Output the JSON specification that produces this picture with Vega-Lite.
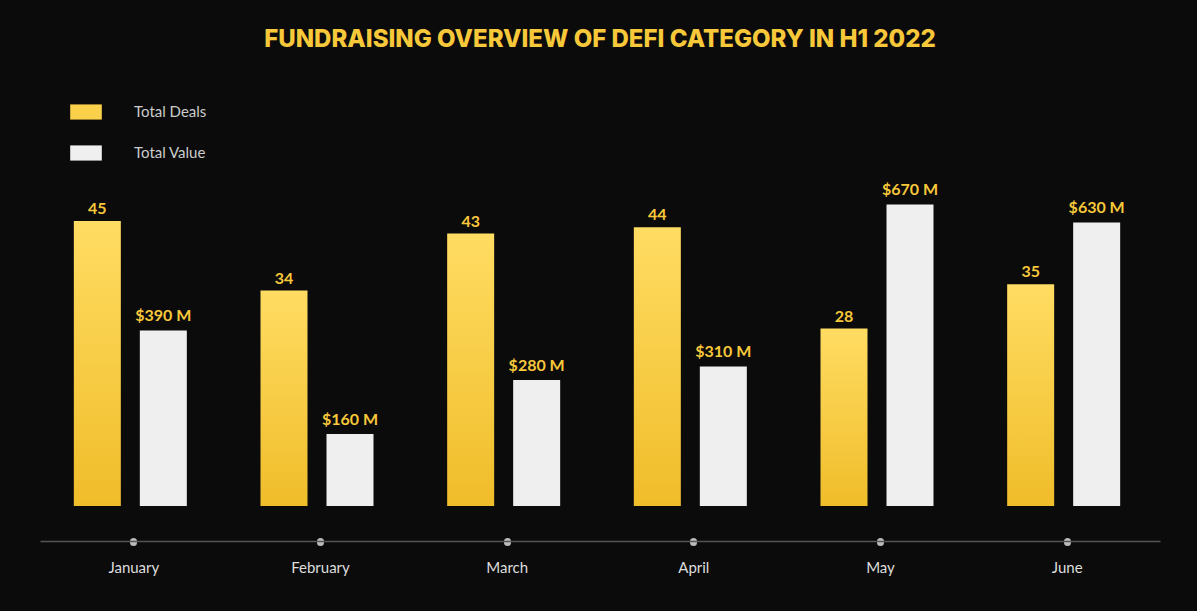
{
"$schema":"https://vega.github.io/schema/vega-lite/v6.json",
"width":1120,"height":420,
"padding":{"left":40,"top":86,"right":37,"bottom":105},
"autosize":{"type":"none"},
"background":"#0b0b0b",
"title":{"text":"FUNDRAISING OVERVIEW OF DEFI CATEGORY IN H1 2022","color":"#F7C83A","font":"Inter","fontWeight":800,"fontSize":24,"offset":34,"anchor":"middle"},
"config":{"view":{"stroke":null},"font":"Lato"},
"data":{"values":[
{"month":"January","deals":45,"value":390,"vlabel":"$390 M"},
{"month":"February","deals":34,"value":160,"vlabel":"$160 M"},
{"month":"March","deals":43,"value":280,"vlabel":"$280 M"},
{"month":"April","deals":44,"value":310,"vlabel":"$310 M"},
{"month":"May","deals":28,"value":670,"vlabel":"$670 M"},
{"month":"June","deals":35,"value":630,"vlabel":"$630 M"}
]},
"encoding":{"x":{"field":"month","type":"nominal","sort":null,"scale":{"paddingInner":0,"paddingOuter":0},
"axis":{"title":null,"labelAngle":0,"labelColor":"#dddddd","labelFontSize":15,"labelPadding":18,"offset":35,"domainColor":"#555","domainWidth":1.5,"tickColor":"#bbbbbb","tickSize":1,"tickWidth":7,"tickCap":"round","tickOffset":0}}},
"layer":[
{"mark":{"type":"bar","width":47,"xOffset":-36,"fill":{"gradient":"linear","x1":0,"y1":0,"x2":0,"y2":1,"stops":[{"offset":0,"color":"#FFDC62"},{"offset":1,"color":"#F0BD2A"}]}},
"encoding":{"y":{"field":"deals","type":"quantitative","scale":{"domain":[0,66.3]},"axis":null}}},
{"mark":{"type":"point","filled":true,"opacity":0,"size":0},
"encoding":{"y":{"field":"deals","type":"quantitative","scale":{"domain":[0,66.3]},"axis":null},
"color":{"field":"month","type":"nominal","scale":{"domain":["Total Deals","Total Value"],"range":["#FAD04A","#EFEFEF"]},
"legend":{"title":null,"orient":"none","legendX":30,"legendY":10,"symbolType":"M-1,-0.48H1V0.48H-1Z","symbolSize":1000,"symbolStrokeWidth":0,"labelColor":"#cccccc","labelFontSize":15,"rowPadding":17,"labelOffset":32,"symbolOpacity":1,"values":["Total Deals","Total Value"]}}}},
{"mark":{"type":"text","xOffset":-36,"dy":-12,"color":"#F7C83A","fontSize":16,"fontWeight":"bold"},
"encoding":{"y":{"field":"deals","type":"quantitative","scale":{"domain":[0,66.3]},"axis":null},"text":{"field":"deals"}}},
{"mark":{"type":"bar","width":47,"xOffset":30,"color":"#EFEFEF"},
"encoding":{"y":{"field":"value","type":"quantitative","scale":{"domain":[0,933]},"axis":null}}},
{"mark":{"type":"text","xOffset":30,"dy":-14,"color":"#F7C83A","fontSize":16,"fontWeight":"bold"},
"encoding":{"y":{"field":"value","type":"quantitative","scale":{"domain":[0,933]},"axis":null},"text":{"field":"vlabel"}}},
{"mark":{"type":"rule","color":"#666"},"encoding":{"y":{"datum":0,"type":"quantitative","scale":{"domain":[0,933]},"axis":null}}}
],
"resolve":{"scale":{"y":"independent"}}
}
